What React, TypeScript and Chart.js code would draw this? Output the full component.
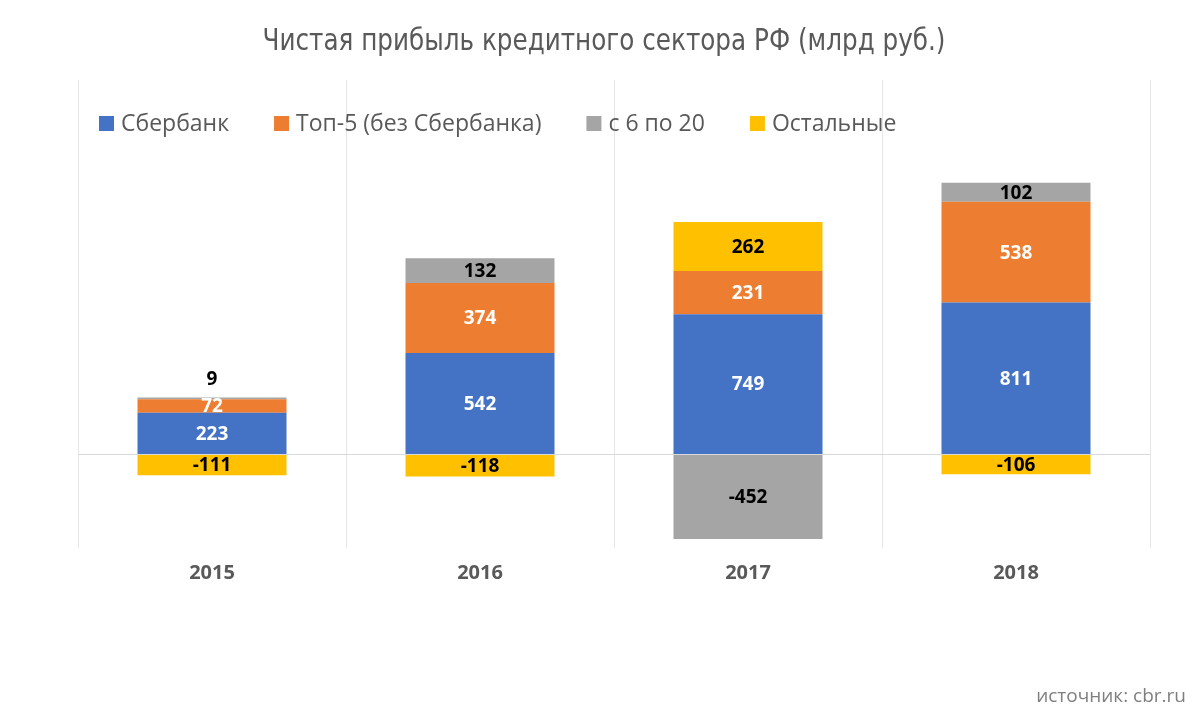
import React, { useEffect, useRef } from 'react';
import { Chart, registerables } from 'chart.js';

Chart.register(...registerables);

const categories = ['2015', '2016', '2017', '2018'];
const seriesNames = ['Сбербанк', 'Топ-5 (без Сбербанка)', 'с 6 по 20', 'Остальные'];
const sber = [223, 542, 749, 811];
const top5 = [72, 374, 231, 538];
const from6to20 = [9, 132, -452, 102];
const others = [-111, -118, 262, -106];
const seriesColors = ['#4472C4', '#ED7D31', '#A5A5A5', '#FFC000'];
const labelColors = ['#FFFFFF', '#FFFFFF', '#000000', '#000000'];
const titleText = 'Чистая прибыль кредитного сектора РФ (млрд руб.)';
const sourceText = 'источник: cbr.ru';

const valueLabels = {
  id: 'valueLabels',
  afterDatasetsDraw(chart: any) {
    const ctx = chart.ctx;
    ctx.save();
    ctx.font = 'bold 19px "Open Sans", sans-serif';
    ctx.textAlign = 'center';
    ctx.textBaseline = 'middle';
    chart.data.datasets.forEach((ds: any, di: number) => {
      const meta = chart.getDatasetMeta(di);
      meta.data.forEach((bar: any, i: number) => {
        const v = ds.data[i];
        const top = Math.min(bar.y, bar.base);
        const h = Math.abs(bar.base - bar.y);
        let y = (bar.y + bar.base) / 2;
        let color = labelColors[di];
        if (h < 8) {
          y = top - 19;
          color = '#000000';
        }
        ctx.fillStyle = color;
        ctx.fillText(String(v), bar.x, y + 1);
      });
    });
    ctx.restore();
  },
};

const decor = {
  id: 'decor',
  afterDraw(chart: any) {
    const ctx = chart.ctx;
    ctx.save();
    // title (condensed horizontally to match the narrow original face)
    ctx.fillStyle = '#595959';
    ctx.font = '31px "Liberation Sans Narrow", "DejaVu Sans Condensed", "Open Sans", sans-serif';
    ctx.textAlign = 'center';
    ctx.textBaseline = 'middle';
    const tw = ctx.measureText(titleText).width;
    const sx = Math.min(1, 683 / tw);
    ctx.save();
    ctx.translate(604, 42);
    ctx.scale(sx, 1);
    ctx.fillText(titleText, 0, 0);
    ctx.restore();
    // legend
    ctx.font = '23px "Open Sans", sans-serif';
    ctx.textAlign = 'left';
    let x = 99;
    seriesNames.forEach((name, i) => {
      ctx.fillStyle = seriesColors[i];
      ctx.fillRect(x, 116, 15, 15);
      ctx.fillStyle = '#595959';
      ctx.fillText(name, x + 22, 124);
      x += 22 + ctx.measureText(name).width + 45;
    });
    // source
    ctx.fillStyle = '#7F7F7F';
    ctx.font = '19px "Open Sans", sans-serif';
    ctx.textAlign = 'right';
    ctx.fillText(sourceText, 1186, 697);
    ctx.restore();
  },
};

export default function App() {
  const ref = useRef<HTMLCanvasElement>(null);
  useEffect(() => {
    document.body.style.margin = '0';
    const seriesData = [sber, top5, from6to20, others];
    const chart = new Chart(ref.current as HTMLCanvasElement, {
      type: 'bar',
      data: {
        labels: categories,
        datasets: seriesNames.map((name, i) => ({
          label: name,
          data: seriesData[i],
          backgroundColor: seriesColors[i],
          borderWidth: 0,
          categoryPercentage: 0.556,
          barPercentage: 1,
        })),
      },
      options: {
        responsive: false,
        animation: false,
        layout: { padding: { left: 78, right: 50, top: 80, bottom: 0 } },
        plugins: {
          legend: { display: false },
          title: { display: false },
          tooltip: { enabled: false },
        },
        scales: {
          x: {
            stacked: true,
            grid: { offset: true, color: '#E6E6E6', drawTicks: false },
            border: { display: false },
            ticks: {
              color: '#595959',
              font: { family: '"Open Sans", sans-serif', weight: 'bold', size: 20 },
              padding: 13,
            },
            afterFit: (s: any) => {
              s.height = 168;
            },
          },
          y: {
            stacked: true,
            min: -500,
            max: 2000,
            ticks: { display: false, stepSize: 500 },
            grid: {
              drawTicks: false,
              color: (c: any) => (c.tick && c.tick.value === 0 ? '#D9D9D9' : 'rgba(0,0,0,0)'),
            },
            border: { display: false },
            afterFit: (s: any) => {
              s.width = 0;
            },
          },
        },
      } as any,
      plugins: [valueLabels, decor],
    });
    return () => chart.destroy();
  }, []);
  return (
    <div style={{ width: 1200, height: 716, background: '#FFFFFF' }}>
      <canvas ref={ref} width={1200} height={716} style={{ display: 'block' }} />
    </div>
  );
}
